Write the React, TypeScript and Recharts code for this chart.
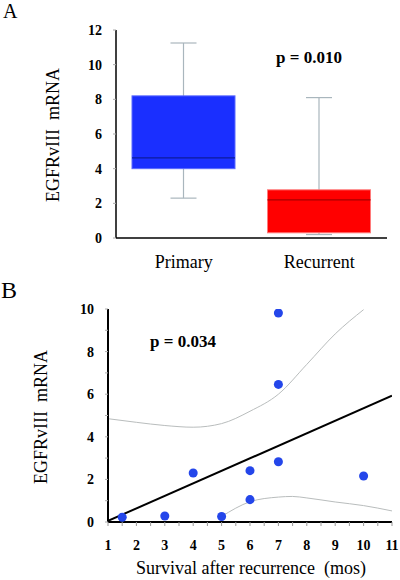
import React from "react";
import {
  Bar,
  ComposedChart,
  Line,
  Scatter,
  XAxis,
  YAxis,
} from "recharts";

// panel A: box plot values
const CATEGORIES = ["Primary", "Recurrent"];
const WHISKER_LOW = [2.3, 0.2];
const Q1 = [4.0, 0.3];
const MEDIAN = [4.62, 2.2];
const Q3 = [8.2, 2.78];
const WHISKER_HIGH = [11.25, 8.1];
const Y_TICKS_A = [0, 2, 4, 6, 8, 10, 12];

// panel B: survival vs mRNA
const SURVIVAL = [1.5, 3, 4, 5, 6, 6, 7, 7, 7, 10];
const EGFR = [0.22, 0.28, 2.3, 0.26, 2.41, 1.05, 9.81, 6.46, 2.83, 2.16];
const FIT_X = [1, 11];
const FIT_Y = [0.05, 5.93];
const UPPER_X = [1, 2, 3, 4, 5, 6, 7, 8, 9, 10];
const UPPER_Y = [4.85, 4.68, 4.53, 4.45, 4.62, 5.2, 6.0, 7.4, 8.83, 9.97];
const LOWER_X = [5, 6, 7, 7.5, 8, 9, 10, 11];
const LOWER_Y = [0.26, 0.95, 1.17, 1.2, 1.13, 0.94, 0.77, 0.52];
const X_TICKS_B = [1, 1.5, 2, 2.5, 3, 3.5, 4, 4.5, 5, 5.5, 6, 6.5, 7, 7.5, 8, 8.5, 9, 9.5, 10, 10.5, 11];
const Y_TICKS_B = [0, 1, 2, 3, 4, 5, 6, 7, 8, 9, 10];

const BOX_FILL = ["#1a2fff", "#ff0000"];
const BOX_EDGE = ["#5a6aff", "#ff7a7a"];
const BOX_MEDIAN = ["#0d1c9c", "#a80000"];

const SERIF = "'Liberation Serif', 'Times New Roman', serif";

const boxData = CATEGORIES.map((name, i) => ({
  name,
  range: [WHISKER_LOW[i], WHISKER_HIGH[i]],
  q1: Q1[i],
  median: MEDIAN[i],
  q3: Q3[i],
}));

const pointData = SURVIVAL.map((x, i) => ({ x, y: EGFR[i] }));
const fitData = FIT_X.map((x, i) => ({ x, y: FIT_Y[i] }));
const upperData = UPPER_X.map((x, i) => ({ x, y: UPPER_Y[i] }));
const lowerData = LOWER_X.map((x, i) => ({ x, y: LOWER_Y[i] }));

function BoxShape(props: any) {
  const { x, y, width, height, payload, index } = props;
  const [lo, hi] = payload.range;
  const top = Math.min(y, y + height);
  const bottom = Math.max(y, y + height);
  // map a value onto the bar's own pixel span (linear axis)
  const toY = (v: number) => bottom - ((v - lo) / (hi - lo)) * (bottom - top);
  const cx = x + width / 2;
  const cap = 13;
  const whisker = "#a9b6bd";
  return (
    <g>
      <line x1={cx} x2={cx} y1={toY(hi)} y2={toY(lo)} stroke={whisker} strokeWidth={1.2} />
      <line x1={cx - cap} x2={cx + cap} y1={toY(hi)} y2={toY(hi)} stroke={whisker} strokeWidth={1.2} />
      <line x1={cx - cap} x2={cx + cap} y1={toY(lo)} y2={toY(lo)} stroke={whisker} strokeWidth={1.2} />
      <rect
        x={x}
        y={toY(payload.q3)}
        width={width}
        height={toY(payload.q1) - toY(payload.q3)}
        fill={BOX_FILL[index]}
        stroke={BOX_EDGE[index]}
        strokeWidth={1}
      />
      <line
        x1={x}
        x2={x + width}
        y1={toY(payload.median)}
        y2={toY(payload.median)}
        stroke={BOX_MEDIAN[index]}
        strokeWidth={1.2}
      />
    </g>
  );
}

const numTick = { fontSize: 14, fontWeight: 700, fill: "#000", fontFamily: SERIF };

export default function App() {
  return (
    <div style={{ position: "absolute", left: 0, top: 0, width: 400, height: 580, background: "#fff" }}>
      <div style={{ position: "absolute", left: 0, top: 0 }}>
        <ComposedChart
          width={400}
          height={290}
          data={boxData}
          margin={{ top: 30, right: 13, bottom: 0, left: 0 }}
        >
          <XAxis
            dataKey="name"
            type="category"
            height={52}
            axisLine={{ stroke: "#000", strokeWidth: 1.5 }}
            tickLine={false}
            tickSize={0}
            tickMargin={17}
            tick={{ fontSize: 18, fill: "#000", fontFamily: SERIF }}
          />
          <YAxis
            width={116}
            domain={[0, 12]}
            ticks={Y_TICKS_A}
            interval={0}
            axisLine={{ stroke: "#000", strokeWidth: 1.5 }}
            tickLine={{ stroke: "#aaa" }}
            tickSize={3}
            tickMargin={11}
            tick={numTick}
          />
          <Bar dataKey="range" barSize={103} shape={BoxShape} isAnimationActive={false} />
        </ComposedChart>
      </div>
      <div style={{ position: "absolute", left: 0, top: 290 }}>
        <ComposedChart width={400} height={290} margin={{ top: 19, right: 8, bottom: 0, left: 0 }}>
          <XAxis
            dataKey="x"
            type="number"
            height={58}
            domain={[1, 11]}
            ticks={X_TICKS_B}
            interval={0}
            allowDataOverflow
            axisLine={{ stroke: "#000", strokeWidth: 2 }}
            tickLine={{ stroke: "#999" }}
            tickSize={4}
            tickMargin={14}
            tickFormatter={(v: number) => (Number.isInteger(v) ? String(v) : "")}
            tick={numTick}
          />
          <YAxis
            dataKey="y"
            type="number"
            width={108}
            domain={[0, 10]}
            ticks={Y_TICKS_B}
            interval={0}
            allowDataOverflow
            axisLine={{ stroke: "#000", strokeWidth: 2 }}
            tickLine={{ stroke: "#aaa" }}
            tickSize={3}
            tickMargin={11}
            tickFormatter={(v: number) => (v % 2 === 0 ? String(v) : "")}
            tick={numTick}
          />
          <Line data={upperData} dataKey="y" type="monotone" stroke="#b9bdbd" strokeWidth={1} dot={false} isAnimationActive={false} />
          <Line data={lowerData} dataKey="y" type="monotone" stroke="#b9bdbd" strokeWidth={1} dot={false} isAnimationActive={false} />
          <Line data={fitData} dataKey="y" type="linear" stroke="#000" strokeWidth={2} dot={false} isAnimationActive={false} />
          <Scatter data={pointData} dataKey="y" fill="#2446ea" isAnimationActive={false} />
        </ComposedChart>
      </div>
      <svg
        width={400}
        height={580}
        style={{ position: "absolute", left: 0, top: 0, pointerEvents: "none" }}
        fontFamily={SERIF}
      >
        <text x={3} y={18} fontSize={20}>A</text>
        <text x={1} y={298} fontSize={24}>B</text>
        <text x={309} y={63} fontSize={17} fontWeight={700} textAnchor="middle">p = 0.010</text>
        <text x={183} y={347} fontSize={17} fontWeight={700} textAnchor="middle">p = 0.034</text>
        <text x={59} y={135} fontSize={18} textAnchor="middle" transform="rotate(-90 59 135)">
          {"EGFRvIII\u00a0 mRNA"}
        </text>
        <text x={47} y={417} fontSize={18} textAnchor="middle" transform="rotate(-90 47 417)">
          {"EGFRvIII\u00a0 mRNA"}
        </text>
        <text x={251} y={574} fontSize={18} textAnchor="middle">
          {"Survival after recurrence\u00a0 (mos)"}
        </text>
      </svg>
    </div>
  );
}
